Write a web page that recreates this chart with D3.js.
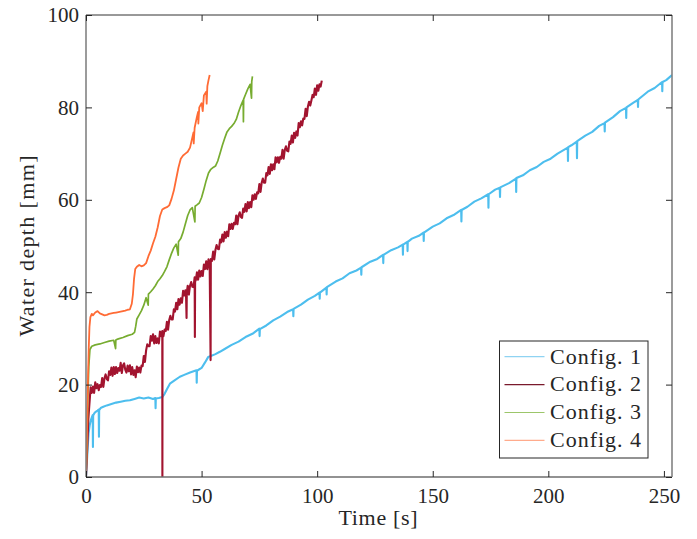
<!DOCTYPE html>
<html>
<head>
<meta charset="utf-8">
<script src="https://cdn.jsdelivr.net/npm/d3@7"></script>
<style>
html,body{margin:0;padding:0;background:#fff;}
svg{display:block;}
text{font-family:"Liberation Serif","DejaVu Serif",serif;fill:#262626;}
</style>
</head>
<body>
<svg id="chart" width="697" height="539"></svg>
<script>
// ---- data ----
const seriesNames = ["Config. 1", "Config. 2", "Config. 3", "Config. 4"];
const xTicks = [0, 50, 100, 150, 200, 250];
const yTicks = [0, 20, 40, 60, 80, 100];
const xLabel = "Time [s]";
const yLabel = "Water depth [mm]";

const time1 = [0,0.3,0.7,1.1,1.6,2.1,2.6,2.9,3.0,3.1,3.6,4.2,5.0,5.5,5.6,5.7,6.5,7.5,9,11,13,15,17,19,21,23,25,27,29,30,30.1,30.2,31.5,33,34,35,36.3,38,40.6,42.5,45,47.8,47.9,48,50,51.5,52.9,54,56,57.9,
  60,63,66,69,72,75,75.1,75.2,78,81,84,87,89.6,89.7,89.8,93,96,99,101,101.1,101.2,104,104.1,104.2,108,111,114,117,119,119.1,119.2,123,126,128.5,128.6,128.7,132,135,137,137.1,137.2,139,139.1,139.2,141,144,146,146.1,146.2,150,153,156,159,162.3,162.4,162.5,165,168,171,174,174.1,174.2,177,179,179.1,179.2,183,186,186.1,186.2,189,192,195,198,201,204,208.4,208.5,208.6,210,212.3,212.4,212.5,216,219,222,224.3,224.4,224.5,228,231,233.6,233.7,233.8,237,238.7,238.8,238.9,243,246,249.2,249.3,249.4,251,253.5];
const depth1 = [0,2.5,6,9.5,11.2,12.3,13,13.4,6.5,13.3,13.8,14.1,14.4,14.6,8.7,14.5,15,15.2,15.5,15.8,16.1,16.3,16.5,16.6,16.9,17.2,17.0,17.2,16.9,17.1,14.9,17,17.1,17.3,18,19,20.2,20.8,21.7,22.1,22.6,23.1,20.4,23.0,23.6,24.8,26,26.2,26.6,27.1,
  27.7,28.6,29.3,30.3,31.0,32.1,30.5,32,32.8,33.9,34.7,35.7,36.3,34.8,36.4,37.3,38.4,39.2,39.9,38.6,39.9,41.0,39.5,41.1,42.3,43.0,44.1,44.7,45.3,43.8,45.4,46.6,47.2,48.1,46.3,48.1,49.1,49.7,50.3,48.1,50.3,50.9,48.9,50.9,51.6,52.2,52.9,51.1,52.9,54.2,54.9,56.0,56.7,57.8,55.3,57.8,58.5,59.6,60.3,61.2,58.3,61.2,62.2,62.6,60.6,62.7,63.6,64.6,61.7,64.7,65.3,66.4,67.1,68.2,68.9,70.0,71.3,68.4,71.4,71.8,72.6,69.0,72.7,73.9,74.7,76.0,76.6,74.8,76.7,77.9,79.2,79.9,77.7,80.0,81.1,81.6,80.1,81.7,83.4,84.2,85.5,83.5,85.5,85.9,87];

const time2 = [0,0.5,1,1.5,2,2.5,3,3.5,4,4.5,5,5.5,6,6.5,7,7.5,8,8.5,9,9.5,
  10,10.5,11,11.5,12,12.5,13,13.5,14,14.5,15,15.5,16,16.5,17,17.5,18,18.5,19,19.5,
  20,20.5,21,21.5,22,22.5,23,23.5,24,24.5,25,25.5,26,26.5,27,27.5,28,28.5,29,29.5,
  30,30.5,31,31.5,32,32.5,33,33.05,33.1,33.5,34,34.5,35,35.5,36,36.5,37,37.5,38,38.5,39,39.5,
  40,40.5,41,41.5,42,42.5,43,43.3,43.5,43.6,44,44.5,45,45.5,46,46.5,47,47.1,47.2,47.5,48,48.5,49,49.5,
  50,50.5,51,51.5,52,52.5,53,53.5,53.9,54,54.5,55,55.5,56,56.5,57,57.5,58,58.5,59,59.5,
  60,60.5,61,61.5,62,62.5,63,63.5,64,64.5,65,65.5,66,66.5,67,67.5,68,68.5,69,69.5,
  70,70.5,71,71.5,72,72.5,73,73.5,74,74.5,75,75.5,76,76.5,77,77.5,78,78.5,79,79.5,
  80,80.5,81,81.5,82,82.5,83,83.5,84,84.5,85,85.5,86,86.5,87,87.5,88,88.5,89,89.5,
  90,90.5,91,91.5,92,92.5,93,93.5,94,94.5,95,95.5,96,96.5,97,97.5,98,98.5,99,99.5,
  100,100.5,101,101.5,102];
const depth2 = [0,6,12.5,16,19.4,18.2,19.6,18.2,20.5,19.2,20.1,18.8,19.9,19.5,21.4,19.5,21.4,22.2,21.2,20.9,
  22.9,22.1,23.7,21.9,23.8,22.3,23.8,22.5,23.6,23.0,24.7,22.5,24.2,24.6,23.2,22.6,24.1,22.9,24.2,22.2,
  23.8,22.1,23.1,21.6,23.9,22.7,23.7,22.6,24.1,24.0,26.2,24.9,27.4,28.7,28.3,28.3,30.5,29.5,30.9,28.9,
  30.5,29.0,30.0,28.9,31.5,30.5,31.6,0,30.8,30.5,31.9,31.6,33.6,31.9,34.0,34.9,34.1,34.1,36.3,35.8,37.7,36.3,
  38.5,37.3,38.7,37.7,40.3,39.3,40.4,38.9,34.4,39.9,41.4,39.5,41.4,42.2,41.2,41.1,43.2,30.3,42.3,42.6,44.3,42.7,44.7,43.4,
  44.6,43.5,46.0,45.0,46.7,45.0,47.1,45.8,25.3,47.2,46.8,48.8,47.1,49.2,50.2,49.4,49.3,51.4,50.8,52.5,51.0,
  53.0,51.8,53.1,52.1,54.7,53.7,54.8,53.7,55.0,54.7,56.6,54.7,56.6,57.3,56.3,56.1,58.1,57.4,59.1,57.5,
  59.5,58.2,59.5,58.4,61.0,60.0,61.2,60.2,61.6,61.4,63.4,61.7,63.7,64.6,63.7,63.7,65.8,65.3,67.1,65.6,
  67.7,66.4,67.7,66.6,69.2,68.1,69.2,68.0,69.3,68.9,70.8,68.9,70.8,71.6,70.6,70.5,72.6,72.1,73.9,72.4,
  74.5,73.4,74.8,73.9,76.6,75.7,77.0,76.1,77.6,77.5,79.7,78.1,80.2,81.2,80.4,81.5,82.7,82.2,84.1,82.7,
  84.8,83.6,85.0,84.5,85.8];

const time3 = [0,0.4,0.8,1.2,1.7,2.5,4,6,8,10,12,12.8,12.9,13,14,16,18,20,21,21.5,22,23,24,25,26,26.9,27,28,29,30,31,32,33,34,35,36,37,38,39,39.9,40,41,42,43,44,45,46,47.1,47.2,48,49,50,51,52,53,54,55,56,57,58,59,60,61,62,63,64,65,66,67,68,68.1,68.2,69,70,71,71.6,71.7,72];
const depth3 = [0,8,17,24,27.6,28.3,28.6,28.8,29.1,29.4,29.6,27.8,29.6,29.7,29.9,30.2,30.6,30.9,31.3,32.6,34.2,35.1,36.0,37.2,38.8,37.2,39.6,40.1,40.7,41.4,42.3,42.9,43.6,44.5,45.5,47.0,48.4,49.6,50.4,48.0,50.9,51.6,53.0,54.8,56.6,57.8,58.3,55.2,58.6,58.9,59.3,60.5,62.3,64.2,65.8,66.6,67.0,67.3,68.4,70.1,71.8,73.3,74.7,75.4,75.9,76.5,77.4,79.0,80.4,81.6,76.9,81.8,82.8,84.0,85.0,82.0,85.6,86.7];

const time4 = [0,0.3,0.6,0.9,1.2,1.5,1.9,2.5,3,4,5,6,7,8,9,10,11,12,13,14,15,16,17,18,19,19.8,20.3,20.8,21.3,22,23,24,25,26,27,28,29,30,31,32,33,34,35,36,37,38,39,40,41,42,43,44,45,46,46.5,46.6,47,48,48.5,48.6,49,50,50.5,51,52,52.2,52.5,53,53.5];
const depth4 = [0,6,14,22,28,32.5,34.6,35.3,35.0,35.6,35.9,35.4,35.2,35.0,35.1,35.3,35.4,35.5,35.6,35.7,35.8,35.9,36.0,36.2,36.3,37.5,39.5,43,45.0,45.5,45.9,45.6,45.8,46.3,47.8,49.0,50.6,52.0,54.0,56.5,57.9,58.2,58.4,58.8,60.2,62.0,64.5,67.0,68.9,69.6,70.0,70.4,71.3,73.5,74.6,72.2,75.6,78.0,79.0,76.5,80.0,80.9,79.2,82.6,83.4,80.8,84.6,85.9,87.0];

const colors = ["#4DBEEE", "#A2142F", "#77AC30", "#FF6B35"];
const legendColors = ["#8fd3f2", "#7a1a2c", "#9cc66a", "#ffab8c"];

// ---- layout ----
const svg = d3.select("#chart");
const L = 86, R = 672, T = 15, B = 477;
const x = d3.scaleLinear().domain([0, 253.5]).range([L, R]);
const y = d3.scaleLinear().domain([0, 100]).range([B, T]);

const series = [
  {t: time1, v: depth1, w: 2.1},
  {t: time2, v: depth2, w: 2.1},
  {t: time3, v: depth3, w: 1.7},
  {t: time4, v: depth4, w: 1.8}
];

const plot = svg.append("g");
plot.append("defs").append("clipPath").attr("id","clip")
  .append("rect").attr("x", L).attr("y", T).attr("width", R-L).attr("height", B-T);

const line = d3.line().x(d => x(d[0])).y(d => y(d[1]));
const lg = plot.append("g").attr("clip-path","url(#clip)");
series.forEach((s, i) => {
  const pts = s.t.map((t, k) => [t, s.v[k]]);
  lg.append("path").datum(pts)
    .attr("d", line)
    .attr("fill", "none")
    .attr("stroke", colors[i])
    .attr("stroke-width", s.w)
    .attr("stroke-linejoin", "round");
});

// ---- axes box ----
const ax = svg.append("g");
ax.append("line").attr("x1", L).attr("x2", R).attr("y1", T).attr("y2", T).attr("stroke", "#333").attr("stroke-width", 1);
ax.append("line").attr("x1", L).attr("x2", R).attr("y1", B).attr("y2", B).attr("stroke", "#6e6e6e").attr("stroke-width", 1.4);
ax.append("line").attr("x1", L).attr("x2", L).attr("y1", T).attr("y2", B).attr("stroke", "#7a7a7a").attr("stroke-width", 1.5);
ax.append("line").attr("x1", R).attr("x2", R).attr("y1", T).attr("y2", B).attr("stroke", "#7a7a7a").attr("stroke-width", 1.5);

const tickLen = 6;
const FONT = '"Liberation Serif", "DejaVu Serif", serif';
const xAxisB = d3.axisBottom(x).tickValues(xTicks).tickSize(-tickLen).tickPadding(13);
const gxb = svg.append("g").attr("transform", `translate(0,${B})`).call(xAxisB);
const xAxisT = d3.axisTop(x).tickValues(xTicks).tickSize(-tickLen).tickFormat("");
const gxt = svg.append("g").attr("transform", `translate(0,${T})`).call(xAxisT);
const yAxisL = d3.axisLeft(y).tickValues(yTicks).tickSize(-tickLen).tickPadding(7);
const gyl = svg.append("g").attr("transform", `translate(${L},0)`).call(yAxisL);
const yAxisR = d3.axisRight(y).tickValues(yTicks).tickSize(-tickLen).tickFormat("");
const gyr = svg.append("g").attr("transform", `translate(${R},0)`).call(yAxisR);

[gxb, gxt, gyl, gyr].forEach(g => {
  g.attr("font-family", FONT).attr("font-size", 21);
  g.select(".domain").remove();
  g.selectAll(".tick line").attr("stroke", "#262626").attr("stroke-width", 1);
  g.selectAll(".tick text").attr("fill", "#262626")
    .style("font-family", FONT).style("font-size", "21px");
});
gxb.selectAll(".tick text").attr("dy", null).attr("y", 26);
gyl.selectAll(".tick text").attr("dy", "0.33em");

// axis labels
svg.append("text").attr("x", (L+R)/2 - 1).attr("y", 525)
  .attr("text-anchor", "middle").style("font-family", FONT).style("font-size", "22px")
  .attr("textLength", 79).attr("lengthAdjust", "spacing")
  .text(xLabel);
svg.append("text").attr("transform", "translate(34,246) rotate(-90)")
  .attr("text-anchor", "middle").style("font-family", FONT).style("font-size", "22px")
  .attr("textLength", 181).attr("lengthAdjust", "spacing")
  .text(yLabel);

// ---- legend ----
const lgX = 499.5, lgY = 341, lgW = 148.5, lgH = 117;
const leg = svg.append("g");
leg.append("rect").attr("x", lgX).attr("y", lgY).attr("width", lgW).attr("height", lgH)
  .attr("fill", "#fff").attr("stroke", "#262626").attr("stroke-width", 1);
seriesNames.forEach((name, i) => {
  const cy = 356.7 + i * 27.9;
  leg.append("line").attr("x1", 504.5).attr("x2", 544.5).attr("y1", cy).attr("y2", cy)
    .attr("stroke", legendColors[i]).attr("stroke-width", 1.2);
  leg.append("text").attr("x", 550).attr("y", cy + 6.8)
    .style("font-family", FONT).style("font-size", "22px")
    .attr("textLength", 91).attr("lengthAdjust", "spacing")
    .text(name);
});
</script>
</body>
</html>
